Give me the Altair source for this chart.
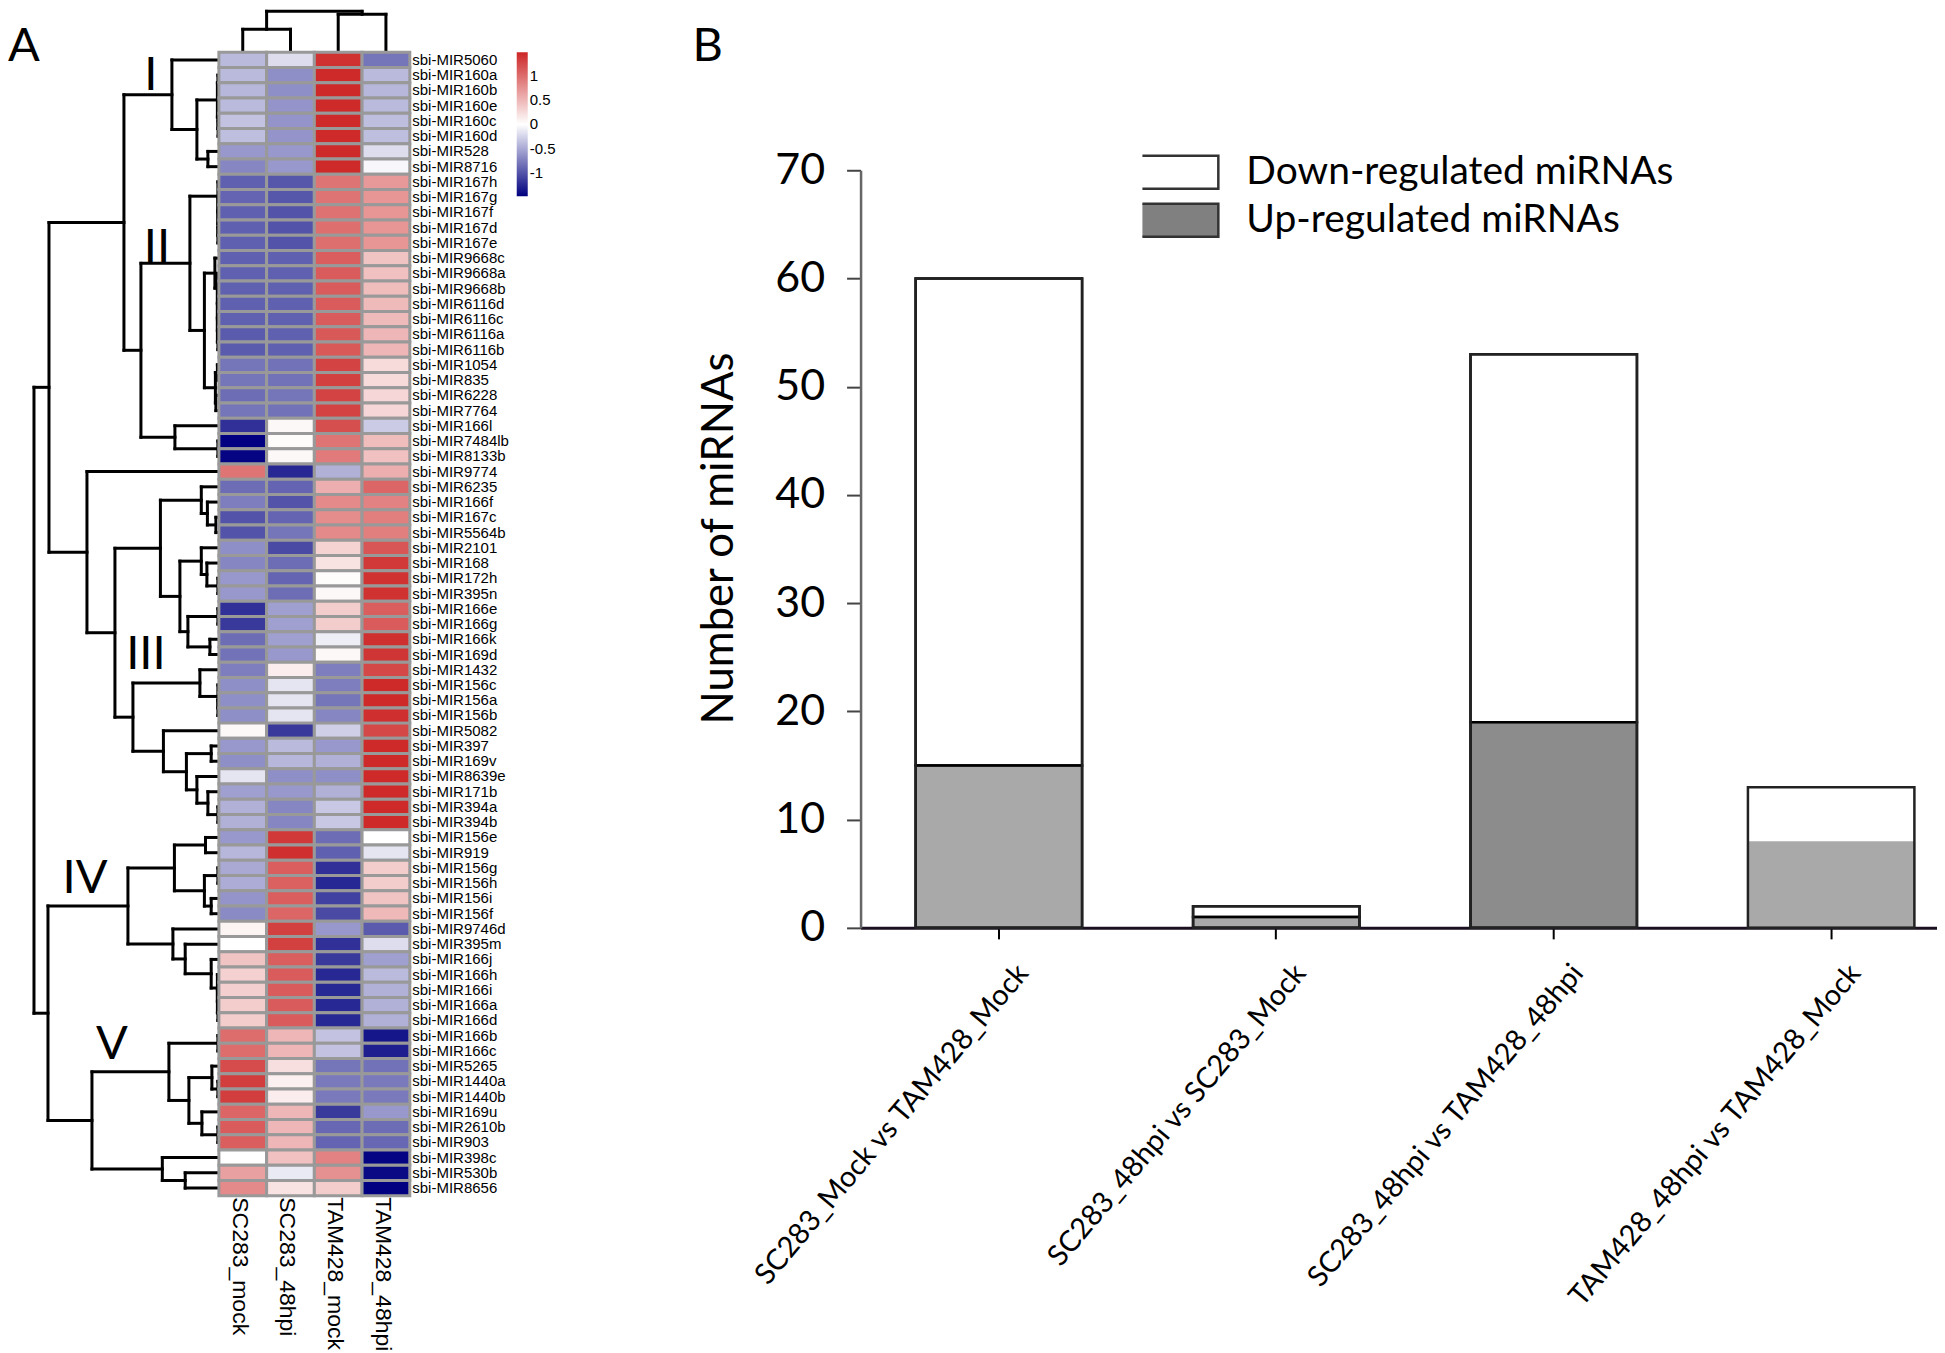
import altair as alt
import pandas as pd

# ---------- heatmap values ----------
columns = ["SC283_mock", "SC283_48hpi", "TAM428_mock", "TAM428_48hpi"]
mirnas = ["sbi-MIR5060","sbi-MIR160a","sbi-MIR160b","sbi-MIR160e","sbi-MIR160c","sbi-MIR160d","sbi-MIR528","sbi-MIR8716",
 "sbi-MIR167h","sbi-MIR167g","sbi-MIR167f","sbi-MIR167d","sbi-MIR167e","sbi-MIR9668c","sbi-MIR9668a","sbi-MIR9668b",
 "sbi-MIR6116d","sbi-MIR6116c","sbi-MIR6116a","sbi-MIR6116b","sbi-MIR1054","sbi-MIR835","sbi-MIR6228","sbi-MIR7764",
 "sbi-MIR166l","sbi-MIR7484lb","sbi-MIR8133b","sbi-MIR9774","sbi-MIR6235","sbi-MIR166f","sbi-MIR167c","sbi-MIR5564b",
 "sbi-MIR2101","sbi-MIR168","sbi-MIR172h","sbi-MIR395n","sbi-MIR166e","sbi-MIR166g","sbi-MIR166k","sbi-MIR169d",
 "sbi-MIR1432","sbi-MIR156c","sbi-MIR156a","sbi-MIR156b","sbi-MIR5082","sbi-MIR397","sbi-MIR169v","sbi-MIR8639e",
 "sbi-MIR171b","sbi-MIR394a","sbi-MIR394b","sbi-MIR156e","sbi-MIR919","sbi-MIR156g","sbi-MIR156h","sbi-MIR156i",
 "sbi-MIR156f","sbi-MIR9746d","sbi-MIR395m","sbi-MIR166j","sbi-MIR166h","sbi-MIR166i","sbi-MIR166a","sbi-MIR166d",
 "sbi-MIR166b","sbi-MIR166c","sbi-MIR5265","sbi-MIR1440a","sbi-MIR1440b","sbi-MIR169u","sbi-MIR2610b","sbi-MIR903",
 "sbi-MIR398c","sbi-MIR530b","sbi-MIR8656"]
sc283_mock = [-.4,-.4,-.42,-.4,-.35,-.38,-.6,-.7,-.92,-.9,-.92,-.92,-.92,-.92,-.92,-.92,-.92,-.92,-.95,-.95,-.8,-.8,-.85,-.8,
 -1.2,-1.48,-1.45,.95,-.85,-.75,-1,-1,-.65,-.7,-.6,-.6,-1.2,-1.15,-.85,-.82,-.75,-.65,-.65,-.65,.05,-.6,-.65,-.15,-.55,-.45,-.45,
 -.6,-.42,-.5,-.48,-.62,-.68,.08,0,.4,.32,.33,.35,.35,1,1,1.22,1.32,1.32,1.05,1.12,1.1,0,.65,.8]
sc283_48hpi = [-.2,-.65,-.65,-.62,-.62,-.62,-.6,-.6,-.98,-.98,-1,-1,-1,-.92,-.92,-.92,-.92,-.92,-.92,-.92,-.82,-.82,-.8,-.82,
 .05,.03,.05,-1.25,-.9,-1,-.9,-.8,-1.05,-.85,-.9,-.85,-.55,-.55,-.55,-.6,.12,-.15,-.15,-.15,-1.15,-.4,-.42,-.65,-.6,-.7,-.7,
 1.35,1.42,1.1,1.08,1.1,1.05,1.3,1.3,1.1,1.12,1.12,1.12,1.12,.5,.5,.22,.1,.12,.5,.5,.5,.42,-.12,.2]
tam428_mock = [1.4,1.45,1.45,1.45,1.45,1.45,1.45,1.45,.95,.95,.97,.98,.98,1.1,1.12,1.12,1.12,1.12,1.13,1.13,1.28,1.3,1.28,1.28,
 1.2,.95,.9,-.45,.55,.8,.78,.8,.3,.2,.03,.05,.35,.35,-.1,.05,-.75,-.75,-.8,-.7,-.28,-.6,-.45,-.65,-.45,-.32,-.32,
 -.85,-.92,-1.2,-1.25,-1.1,-1.05,-.6,-1.2,-1.15,-1.25,-1.25,-1.25,-1.25,-.35,-.35,-.8,-.78,-.78,-1.15,-.88,-.9,.85,.75,.35]
tam428_48hpi = [-.8,-.4,-.42,-.4,-.38,-.38,-.2,-.05,.7,.72,.72,.72,.72,.4,.42,.45,.47,.47,.5,.5,.25,.25,.28,.28,
 -.3,.45,.42,.55,1.05,.85,.88,.88,1.15,1.35,1.4,1.4,1.1,1.12,1.42,1.38,1.25,1.45,1.45,1.42,1.25,1.45,1.45,1.45,1.45,1.45,1.45,
 0,-.15,.35,.35,.4,.48,-.95,-.2,-.55,-.4,-.45,-.45,-.45,-1.35,-1.3,-.82,-.78,-.78,-.6,-.85,-.88,-1.45,-1.42,-1.48]
heat_values = [sc283_mock, sc283_48hpi, tam428_mock, tam428_48hpi]
colorbar_ticks = [1, 0.5, 0, -0.5, -1]

# ---------- dendrograms: (merge height, child, child), leaves are row / column numbers ----------
cluster_i = (47, 0, (22, (1.5, (1, 1, 2), (1, 3, (.8, 4, 5))), (11, 6, 7)))
cluster_ii = (78, (29, (1, 8, (1, 9, (1, 10, (1, 11, 12)))),
                   (14.5, (4, 13, (1.5, 14, (1.5, 15, (1.5, 16, (1.5, 17, (1, 18, 19)))))),
                    (3.5, (1.5, 20, 21), (3, 22, 23)))),
              (44, 24, (1, 25, 26)))
cluster_iii = (104, (58.5, (17.6, 28, (11.5, 29, (3, 30, 31))),
                     (39, (17.6, 32, (12, 33, (1, 34, 35))), (31, (1, 36, 37), (9, 38, 39)))),
               (86, (19, 40, (1, 41, (1, 42, 43))),
                (55.5, 44, (32.5, (7.7, 45, 46), (22, 47, (11, 48, (1, 49, 50)))))))
cluster_iv = (91, (44.5, (13.4, 51, 52), (14.5, (1, 53, 54), (7.7, 55, 56))),
              (46, 57, (33.7, 58, (7.7, 59, (1.5, 60, (1.5, 61, (1, 62, 63)))))))
cluster_v = (127, (50, (1, 64, 65), (30, (7, 66, (1, 67, 68)), (17, 69, (1, 70, 71)))),
             (56.6, 72, (33.7, 73, 74)))
row_tree = (185, (170, (95, cluster_i, cluster_ii), (132, 27, cluster_iii)), (171, cluster_iv, cluster_v))
col_tree = (41, (23, 0, 1), (38, 2, 3))

# ---------- bar values ----------
comparisons = ["SC283_Mock vs TAM428_Mock", "SC283_48hpi vs SC283_Mock",
               "SC283_48hpi vs TAM428_48hpi", "TAM428_48hpi vs TAM428_Mock"]
up_regulated = [15, 1, 19, 8]
down_regulated = [45, 1, 34, 5]
up_shade = [0.68, 0.68, 0.9, 0.68]
segment_edge = ["black", "black", "black", "transparent"]


def segments(node, out):
    """Return (position, height) of a node; collect its three dendrogram lines."""
    if isinstance(node, int):
        return node + 0.5, 0
    h, a, b = node
    pa, ha = segments(a, out)
    pb, hb = segments(b, out)
    out.append(dict(h=h, h2=h, p=pa, p2=pb))
    out.append(dict(h=ha, h2=h, p=pa, p2=pa))
    out.append(dict(h=hb, h2=h, p=pb, p2=pb))
    return (pa + pb) / 2, h


TOP = 42
ROW_H = 1144
row_segs = []
segments(row_tree, row_segs)
col_segs = []
segments(col_tree, col_segs)

dendro_left = alt.Chart(pd.DataFrame(row_segs)).mark_rule(color="black", strokeWidth=3, strokeCap="square").encode(
    x=alt.X("h:Q", scale=alt.Scale(domain=[210, 0], nice=False, zero=False), axis=None),
    x2="h2:Q",
    y=alt.Y("p:Q", scale=alt.Scale(domain=[75, -TOP / ROW_H * 75], nice=False, zero=False), axis=None),
    y2="p2:Q",
).properties(width=210, height=ROW_H + TOP)

big_text = []
one = pd.DataFrame({"k": [0]})
for label, px, py in [("A", 15, 37), ("I", 142, 66), ("II", 148, 238), ("III", 137, 645), ("IV", 76, 869), ("V", 103, 1035)]:
    big_text.append(alt.Chart(one).mark_text(text=label, font="Lato", fontSize=47, color="black").encode(
        x=alt.value(px), y=alt.value(py)))
left_panel = alt.layer(dendro_left, *big_text)

dendro_top = alt.Chart(pd.DataFrame(col_segs)).mark_rule(color="black", strokeWidth=3, strokeCap="square").encode(
    x=alt.X("p:Q", scale=alt.Scale(domain=[0, 4], nice=False, zero=False), axis=None),
    x2="p2:Q",
    y=alt.Y("h:Q", scale=alt.Scale(domain=[0, TOP], nice=False, zero=False), axis=None),
    y2="h2:Q",
).properties(width=191, height=TOP)

cells = pd.DataFrame([
    dict(mirna=m, sample=c, value=heat_values[j][i])
    for i, m in enumerate(mirnas) for j, c in enumerate(columns)
])
heat = alt.Chart(cells).mark_rect(stroke="#999999", strokeWidth=3).encode(
    x=alt.X("sample:N", sort=columns, title=None, scale=alt.Scale(paddingInner=0, paddingOuter=0),
            axis=alt.Axis(orient="bottom", labelAngle=90, labelAlign="left", labelBaseline="middle", ticks=False,
                          domain=False, labelFont="Liberation Sans", labelFontSize=23, labelPadding=1, labelOffset=-3,
                          labelColor="black", labelLimit=300)),
    y=alt.Y("mirna:N", sort=mirnas, title=None, scale=alt.Scale(paddingInner=0, paddingOuter=0),
            axis=alt.Axis(orient="right", ticks=False, domain=False, labelFont="Liberation Sans", labelFontSize=15,
                          labelPadding=2, labelColor="black", labelLimit=300, labelOverlap=False)),
    color=alt.Color("value:Q", scale=alt.Scale(domain=[-1.48, 0, 1.48], range=["#000080", "#ffffff", "#CD2626"],
                                               interpolate="rgb"),
                    legend=alt.Legend(orient="none", legendX=508, legendY=42, title=None, gradientLength=144,
                                      gradientThickness=11, values=colorbar_ticks, labelFont="Liberation Sans",
                                      labelFontSize=15, labelColor="black", labelOverlap=False,
                                      labelExpr="'' + datum.value", gradientStrokeWidth=0)),
).properties(width=191, height=ROW_H)

heat_panel = alt.vconcat(dendro_top, heat, spacing=0, bounds="flush")

bars = pd.DataFrame(
    [dict(comp=c, kind="Down-regulated miRNAs", n=down_regulated[i], ord=2, shade=1, edge=segment_edge[i],
          total=down_regulated[i] + up_regulated[i]) for i, c in enumerate(comparisons)]
    + [dict(comp=c, kind="Up-regulated miRNAs", n=up_regulated[i], ord=1, shade=up_shade[i], edge=segment_edge[i],
            total=down_regulated[i] + up_regulated[i]) for i, c in enumerate(comparisons)]
)
x_enc = alt.X("comp:N", sort=comparisons, title=None,
              scale=alt.Scale(paddingInner=0.4, paddingOuter=0.14, align=0.709),
              axis=alt.Axis(labelAngle=310, labelAlign="right", labelBaseline="middle", labelFont="Lato", labelFontSize=29,
                            labelColor="black", labelLimit=1000, tickSize=11, tickColor="black", tickWidth=2,
                            domainColor="#1a1020", domainWidth=3, labelPadding=29, labelOffset=24))
y_axis = alt.Axis(values=[0, 10, 20, 30, 40, 50, 60, 70], grid=False, title="Number of miRNAs", titleFont="Lato",
                  titleFontSize=43.7, titleFontWeight="normal", titleColor="black", titleX=-119, titleY=368,
                  titleAngle=270, labelFont="Lato", labelFontSize=43, labelColor="black", tickSize=14,
                  tickColor="#444444", tickWidth=2, domainColor="#666666", domainWidth=2.5, labelPadding=22)
segments_layer = alt.Chart(bars).mark_bar(strokeWidth=2.5).encode(
    x=x_enc,
    y=alt.Y("n:Q", stack="zero", scale=alt.Scale(domain=[0, 70]), axis=y_axis),
    order=alt.Order("ord:Q"),
    stroke=alt.Stroke("edge:N", scale=None, legend=None),
    fillOpacity=alt.FillOpacity("shade:Q", scale=None, legend=None),
    fill=alt.Fill("kind:N", scale=alt.Scale(domain=["Down-regulated miRNAs", "Up-regulated miRNAs"],
                                            range=["#ffffff", "#808080"]),
                  legend=alt.Legend(orient="none", legendX=1134, legendY=138, title=None, labelFont="Lato",
                                    labelFontSize=39, labelColor="black", labelLimit=800,
                                    symbolType="M-1.25,-0.5H1.25V0.5H-1.25Z", symbolSize=4400, symbolStrokeColor="#333333",
                                    symbolStrokeWidth=2.5, symbolOpacity=1, rowPadding=0, clipHeight=48, labelOffset=35)),
)
outline_layer = alt.Chart(bars[bars["kind"] == "Up-regulated miRNAs"]).mark_bar(
    fill="transparent", stroke="#222222", strokeWidth=2.5).encode(
    x=x_enc,
    y=alt.Y("total:Q", stack=None, scale=alt.Scale(domain=[0, 70]), axis=y_axis),
)
bar = alt.layer(segments_layer, outline_layer).properties(width=1077, height=758)

spacer = alt.Chart(one).mark_text(text="B", font="Lato", fontSize=47, color="black").encode(
    x=alt.value(-153), y=alt.value(37)).properties(width=1077, height=160)
bar_panel = alt.vconcat(spacer, bar, spacing=0, bounds="flush")

inner = alt.hconcat(left_panel, heat_panel, spacing=0, bounds="flush")
chart = alt.hconcat(inner, bar_panel, spacing=852, bounds="flush").properties(padding=0).configure_view(stroke=None)
chart.save("out.html", embed_options={"renderer": "svg", "actions": False})
